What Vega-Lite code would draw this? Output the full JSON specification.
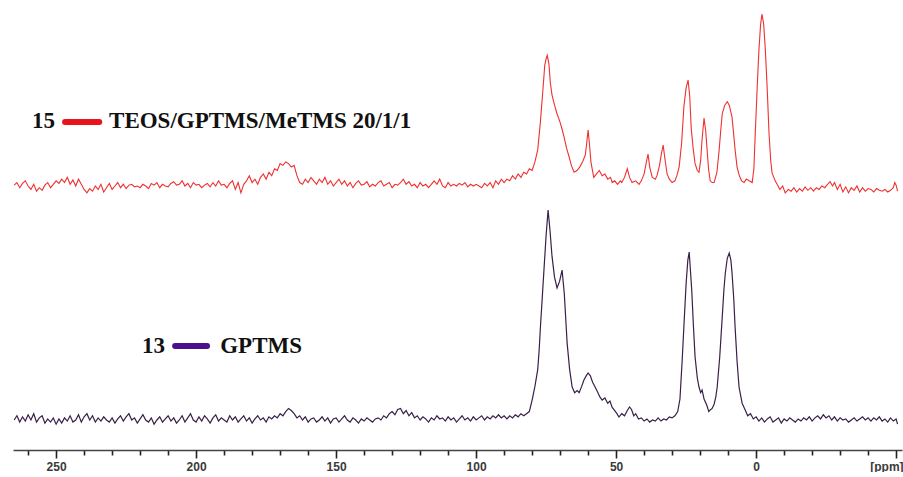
{
"$schema": "https://vega.github.io/schema/vega-lite/v6.json",
"background": "white",
"padding": {"left": 11, "top": 0, "right": 3, "bottom": 0},
"spacing": 0,
"config": {"view": {"stroke": null}, "concat": {"spacing": 0}},
"datasets": {
"red": [
{"ppm":265,"i":0.5},{"ppm":264,"i":2},{"ppm":263,"i":-1},{"ppm":262,"i":1.5},{"ppm":261,"i":3},{"ppm":260,"i":0},{"ppm":259,"i":-2},{"ppm":258,"i":1},{"ppm":257,"i":-3},{"ppm":256,"i":-1},{"ppm":255,"i":-2.5},{"ppm":254,"i":0.5},{"ppm":253,"i":2},{"ppm":252,"i":-1},{"ppm":251,"i":1},{"ppm":250,"i":3},{"ppm":249,"i":1.5},{"ppm":248,"i":4},{"ppm":247,"i":2},{"ppm":246,"i":5},{"ppm":245,"i":1},{"ppm":244,"i":3.5},{"ppm":243,"i":0},{"ppm":242,"i":4},{"ppm":241,"i":1},{"ppm":240,"i":-2},{"ppm":239,"i":-4},{"ppm":238,"i":-1.5},{"ppm":237,"i":-3},{"ppm":236,"i":0},{"ppm":235,"i":-2},{"ppm":234,"i":1},{"ppm":233,"i":-3.5},{"ppm":232,"i":-1},{"ppm":231,"i":1.5},{"ppm":230,"i":-2},{"ppm":229,"i":0},{"ppm":228,"i":2},{"ppm":227,"i":-1},{"ppm":226,"i":1},{"ppm":225,"i":-1.5},{"ppm":224,"i":0.5},{"ppm":223,"i":1},{"ppm":222,"i":-0.5},{"ppm":221,"i":0},{"ppm":220,"i":-1},{"ppm":219,"i":1},{"ppm":218,"i":0},{"ppm":217,"i":-1.5},{"ppm":216,"i":1.5},{"ppm":215,"i":0.5},{"ppm":214,"i":2},{"ppm":213,"i":-1},{"ppm":212,"i":1},{"ppm":211,"i":0},{"ppm":210,"i":-0.5},{"ppm":209,"i":1.5},{"ppm":208,"i":2.5},{"ppm":207,"i":0.5},{"ppm":206,"i":1},{"ppm":205,"i":3},{"ppm":204,"i":0},{"ppm":203,"i":1.5},{"ppm":202,"i":-1},{"ppm":201,"i":2},{"ppm":200,"i":0.5},{"ppm":199,"i":1},{"ppm":198,"i":-1},{"ppm":197,"i":0.5},{"ppm":196,"i":1.5},{"ppm":195,"i":-0.5},{"ppm":194,"i":2},{"ppm":193,"i":0},{"ppm":192,"i":3},{"ppm":191,"i":0.5},{"ppm":190,"i":1},{"ppm":189,"i":-1},{"ppm":188,"i":1.5},{"ppm":187,"i":3},{"ppm":186,"i":-2},{"ppm":185,"i":2},{"ppm":184,"i":-4},{"ppm":183,"i":1},{"ppm":182,"i":3},{"ppm":181,"i":6},{"ppm":180,"i":2},{"ppm":179,"i":4},{"ppm":178,"i":1},{"ppm":177,"i":5},{"ppm":176,"i":7},{"ppm":175,"i":4},{"ppm":174,"i":8},{"ppm":173,"i":6},{"ppm":172,"i":10},{"ppm":171,"i":9},{"ppm":170,"i":13},{"ppm":169,"i":12},{"ppm":168,"i":14},{"ppm":167,"i":13},{"ppm":166,"i":11},{"ppm":165,"i":12},{"ppm":164,"i":6},{"ppm":163,"i":2},{"ppm":162,"i":1},{"ppm":161,"i":4},{"ppm":160,"i":2},{"ppm":159,"i":5},{"ppm":158,"i":3},{"ppm":157,"i":1},{"ppm":156,"i":4},{"ppm":155,"i":2},{"ppm":154,"i":5},{"ppm":153,"i":1},{"ppm":152,"i":3},{"ppm":151,"i":0},{"ppm":150,"i":2},{"ppm":149,"i":4},{"ppm":148,"i":1},{"ppm":147,"i":3},{"ppm":146,"i":0},{"ppm":145,"i":2},{"ppm":144,"i":-1},{"ppm":143,"i":1.5},{"ppm":142,"i":3},{"ppm":141,"i":0.5},{"ppm":140,"i":1},{"ppm":139,"i":2.5},{"ppm":138,"i":-0.5},{"ppm":137,"i":1},{"ppm":136,"i":0},{"ppm":135,"i":2},{"ppm":134,"i":3},{"ppm":133,"i":0},{"ppm":132,"i":1},{"ppm":131,"i":2},{"ppm":130,"i":-1},{"ppm":129,"i":1},{"ppm":128,"i":0.5},{"ppm":127,"i":2},{"ppm":126,"i":4},{"ppm":125,"i":1},{"ppm":124,"i":2.5},{"ppm":123,"i":0},{"ppm":122,"i":1},{"ppm":121,"i":-1},{"ppm":120,"i":2},{"ppm":119,"i":0},{"ppm":118,"i":1},{"ppm":117,"i":-1},{"ppm":116,"i":1},{"ppm":115,"i":3},{"ppm":114,"i":1},{"ppm":113,"i":4},{"ppm":112,"i":0},{"ppm":111,"i":-1},{"ppm":110,"i":2},{"ppm":109,"i":0},{"ppm":108,"i":1},{"ppm":107,"i":0},{"ppm":106,"i":1.5},{"ppm":105,"i":0.5},{"ppm":104,"i":2},{"ppm":103,"i":-0.5},{"ppm":102,"i":1},{"ppm":101,"i":0},{"ppm":100,"i":1},{"ppm":99,"i":0},{"ppm":98,"i":-1},{"ppm":97,"i":1.5},{"ppm":96,"i":0},{"ppm":95,"i":2},{"ppm":94,"i":-1},{"ppm":93,"i":3},{"ppm":92,"i":1},{"ppm":91,"i":4},{"ppm":90,"i":2},{"ppm":89,"i":4},{"ppm":88,"i":3},{"ppm":87,"i":6},{"ppm":86,"i":4},{"ppm":85,"i":7},{"ppm":84,"i":5},{"ppm":83,"i":8},{"ppm":82,"i":7},{"ppm":81,"i":10},
{"ppm":80,"i":9},{"ppm":79,"i":14},{"ppm":78,"i":21},{"ppm":77,"i":38},{"ppm":76,"i":59},{"ppm":75.5,"i":70},{"ppm":75,"i":74},{"ppm":74.6,"i":76},{"ppm":74,"i":71},{"ppm":73.5,"i":60},{"ppm":72.9,"i":53},{"ppm":72,"i":47},{"ppm":71.1,"i":42},{"ppm":70,"i":37},{"ppm":69.3,"i":33},{"ppm":68.6,"i":28.5},{"ppm":67.7,"i":22},{"ppm":66.8,"i":17},{"ppm":66,"i":12},{"ppm":65,"i":8},{"ppm":64,"i":9},{"ppm":63,"i":11},{"ppm":62,"i":14},{"ppm":61,"i":18},{"ppm":60.5,"i":25},{"ppm":60,"i":32.6},{"ppm":59.5,"i":24},{"ppm":59,"i":14},{"ppm":58,"i":5},{"ppm":57,"i":7},{"ppm":56,"i":9},{"ppm":55,"i":6},{"ppm":54,"i":7},{"ppm":53,"i":4},{"ppm":52,"i":5},{"ppm":51.4,"i":2},{"ppm":50.5,"i":3},{"ppm":49.5,"i":1},{"ppm":48.5,"i":3},{"ppm":48,"i":2},{"ppm":47,"i":5},{"ppm":46,"i":10},{"ppm":45.2,"i":5},{"ppm":44.3,"i":2},{"ppm":43,"i":3},{"ppm":41.8,"i":1},{"ppm":41,"i":3},{"ppm":40,"i":7},{"ppm":39.3,"i":13},{"ppm":38.6,"i":18.6},{"ppm":38,"i":11},{"ppm":37.1,"i":5},{"ppm":36,"i":4},{"ppm":35.4,"i":6},{"ppm":34.5,"i":12},{"ppm":33.8,"i":19},{"ppm":33.2,"i":23.8},{"ppm":32.5,"i":15},{"ppm":31.8,"i":7},{"ppm":31,"i":4},{"ppm":30,"i":2},{"ppm":29,"i":3},{"ppm":28.3,"i":6},{"ppm":27.5,"i":11},{"ppm":26.6,"i":25},{"ppm":25.8,"i":46},{"ppm":25,"i":57},{"ppm":24.3,"i":61.6},{"ppm":23.7,"i":52},{"ppm":23.2,"i":34},{"ppm":22.5,"i":22},{"ppm":21.8,"i":13},{"ppm":21,"i":9},{"ppm":20.4,"i":8},{"ppm":19.8,"i":15},{"ppm":19.3,"i":27},{"ppm":18.6,"i":39.5},{"ppm":18,"i":32},{"ppm":17.5,"i":21},{"ppm":17,"i":10},{"ppm":16.4,"i":3},{"ppm":15.7,"i":2},{"ppm":15,"i":2},{"ppm":14,"i":8},{"ppm":13.2,"i":21},{"ppm":12.6,"i":33},{"ppm":12.1,"i":42},{"ppm":11.2,"i":47},{"ppm":10.3,"i":49},{"ppm":9.6,"i":47},{"ppm":8.6,"i":40},{"ppm":7.5,"i":21},{"ppm":6.8,"i":11},{"ppm":6,"i":6},{"ppm":5.2,"i":3},{"ppm":4.3,"i":2},{"ppm":3.5,"i":4},{"ppm":2.5,"i":3},{"ppm":1.4,"i":2},{"ppm":0.8,"i":10},{"ppm":0.3,"i":31},{"ppm":-0.4,"i":58},{"ppm":-1,"i":79},{"ppm":-1.6,"i":94},{"ppm":-2.1,"i":100},{"ppm":-2.7,"i":94},{"ppm":-3.3,"i":79},{"ppm":-4,"i":55},{"ppm":-4.6,"i":31},{"ppm":-5.2,"i":15},{"ppm":-5.7,"i":7.6},{"ppm":-6.8,"i":3},{"ppm":-7.5,"i":1},{"ppm":-8.5,"i":-2},{"ppm":-9.5,"i":0},{"ppm":-10.4,"i":-4},{"ppm":-11.5,"i":-2},{"ppm":-12.5,"i":-3},{"ppm":-13.5,"i":-1},{"ppm":-14.5,"i":-3.5},{"ppm":-15.5,"i":-1.5},{"ppm":-16.5,"i":-3},{"ppm":-17.5,"i":-0.5},{"ppm":-18.5,"i":-2.5},{"ppm":-19.5,"i":-1},{"ppm":-20.5,"i":-3},{"ppm":-21.5,"i":-1},{"ppm":-22.5,"i":-2},{"ppm":-23.5,"i":0},{"ppm":-24.5,"i":-1},{"ppm":-25.5,"i":1},{"ppm":-26.4,"i":2.5},{"ppm":-27.3,"i":0},{"ppm":-28,"i":2},{"ppm":-29,"i":-2},{"ppm":-30,"i":1},{"ppm":-31,"i":-3.5},{"ppm":-32,"i":-0.5},{"ppm":-33,"i":-4},{"ppm":-34,"i":-1},{"ppm":-35,"i":-2.5},{"ppm":-36,"i":0},{"ppm":-37,"i":-3.5},{"ppm":-38,"i":-1},{"ppm":-39,"i":-3},{"ppm":-40,"i":-1.5},{"ppm":-41,"i":-2},{"ppm":-42,"i":-3.5},{"ppm":-43,"i":-1.5},{"ppm":-44,"i":-2.5},{"ppm":-45,"i":-3},{"ppm":-46,"i":-2},{"ppm":-47,"i":-3.5},{"ppm":-48,"i":-2.5},{"ppm":-49,"i":-1},{"ppm":-49.5,"i":2},{"ppm":-50,"i":0.5},{"ppm":-50.5,"i":-3}
],
"purple": [
{"ppm":265,"i":0},{"ppm":264,"i":2},{"ppm":263,"i":-1},{"ppm":262,"i":1.5},{"ppm":261,"i":-0.5},{"ppm":260,"i":2.5},{"ppm":259,"i":0},{"ppm":258,"i":3},{"ppm":257,"i":-1},{"ppm":256,"i":1},{"ppm":255,"i":2},{"ppm":254,"i":-1.5},{"ppm":253,"i":0.5},{"ppm":252,"i":-1},{"ppm":251,"i":1},{"ppm":250,"i":-2},{"ppm":249,"i":0.5},{"ppm":248,"i":-1.5},{"ppm":247,"i":1},{"ppm":246,"i":-0.5},{"ppm":245,"i":2},{"ppm":244,"i":-1},{"ppm":243,"i":0},{"ppm":242,"i":2.5},{"ppm":241,"i":-1},{"ppm":240,"i":1.5},{"ppm":239,"i":3},{"ppm":238,"i":0},{"ppm":237,"i":2},{"ppm":236,"i":-1},{"ppm":235,"i":1},{"ppm":234,"i":-0.5},{"ppm":233,"i":1.5},{"ppm":232,"i":0},{"ppm":231,"i":-1},{"ppm":230,"i":1},{"ppm":229,"i":-1.5},{"ppm":228,"i":0.5},{"ppm":227,"i":2},{"ppm":226,"i":-0.5},{"ppm":225,"i":1.5},{"ppm":224,"i":3},{"ppm":223,"i":0},{"ppm":222,"i":1},{"ppm":221,"i":-1.5},{"ppm":220,"i":0.5},{"ppm":219,"i":2.5},{"ppm":218,"i":0},{"ppm":217,"i":-1},{"ppm":216,"i":1},{"ppm":215,"i":-2},{"ppm":214,"i":0},{"ppm":213,"i":1.5},{"ppm":212,"i":-1},{"ppm":211,"i":0.5},{"ppm":210,"i":2},{"ppm":209,"i":-0.5},{"ppm":208,"i":1},{"ppm":207,"i":-1.5},{"ppm":206,"i":0},{"ppm":205,"i":2},{"ppm":204,"i":-1},{"ppm":203,"i":1},{"ppm":202,"i":3},{"ppm":201,"i":0},{"ppm":200,"i":-1},{"ppm":199,"i":1.5},{"ppm":198,"i":-0.5},{"ppm":197,"i":2},{"ppm":196,"i":0.5},{"ppm":195,"i":-1.5},{"ppm":194,"i":1},{"ppm":193,"i":2.5},{"ppm":192,"i":-0.5},{"ppm":191,"i":1},{"ppm":190,"i":0},{"ppm":189,"i":-1},{"ppm":188,"i":2},{"ppm":187,"i":0},{"ppm":186,"i":1.5},{"ppm":185,"i":-1},{"ppm":184,"i":0.5},{"ppm":183,"i":2},{"ppm":182,"i":-0.5},{"ppm":181,"i":1},{"ppm":180,"i":-1.5},{"ppm":179,"i":0.5},{"ppm":178,"i":2},{"ppm":177,"i":0},{"ppm":176,"i":1},{"ppm":175,"i":-1},{"ppm":174,"i":1.5},{"ppm":173,"i":0.5},{"ppm":172,"i":2},{"ppm":171,"i":1},{"ppm":170,"i":3},{"ppm":169,"i":2},{"ppm":168,"i":4},{"ppm":167,"i":5.5},{"ppm":166,"i":4.5},{"ppm":165,"i":3},{"ppm":164,"i":1},{"ppm":163,"i":2},{"ppm":162,"i":0},{"ppm":161,"i":1.5},{"ppm":160,"i":-1},{"ppm":159,"i":0.5},{"ppm":158,"i":1},{"ppm":157,"i":-1},{"ppm":156,"i":0},{"ppm":155,"i":1.5},{"ppm":154,"i":-0.5},{"ppm":153,"i":1},{"ppm":152,"i":-1.5},{"ppm":151,"i":0.5},{"ppm":150,"i":1},{"ppm":149,"i":-1},{"ppm":148,"i":0.5},{"ppm":147,"i":2},{"ppm":146,"i":0},{"ppm":145,"i":-1},{"ppm":144,"i":1},{"ppm":143,"i":0},{"ppm":142,"i":-1.5},{"ppm":141,"i":0.5},{"ppm":140,"i":-0.5},{"ppm":139,"i":1},{"ppm":138,"i":0},{"ppm":137,"i":-1},{"ppm":136,"i":0.5},{"ppm":135,"i":1},{"ppm":134,"i":0},{"ppm":133,"i":2},{"ppm":132,"i":1},{"ppm":131,"i":3},{"ppm":130,"i":4},{"ppm":129,"i":2.5},{"ppm":128,"i":5},{"ppm":127,"i":5.5},{"ppm":126,"i":3},{"ppm":125,"i":4.5},{"ppm":124,"i":2},{"ppm":123,"i":3.5},{"ppm":122,"i":1},{"ppm":121,"i":2},{"ppm":120,"i":0},{"ppm":119,"i":1.5},{"ppm":118,"i":0.5},{"ppm":117,"i":-1},{"ppm":116,"i":1},{"ppm":115,"i":0},{"ppm":114,"i":2},{"ppm":113,"i":0.5},{"ppm":112,"i":1},{"ppm":111,"i":-0.5},{"ppm":110,"i":1.5},{"ppm":109,"i":0},{"ppm":108,"i":1},{"ppm":107,"i":-1},{"ppm":106,"i":0.5},{"ppm":105,"i":2},{"ppm":104,"i":0},{"ppm":103,"i":1},{"ppm":102,"i":-0.5},{"ppm":101,"i":1.5},{"ppm":100,"i":0},{"ppm":99,"i":1},{"ppm":98,"i":2},{"ppm":97,"i":0},{"ppm":96,"i":1.5},{"ppm":95,"i":0.5},{"ppm":94,"i":2},{"ppm":93,"i":1},{"ppm":92,"i":2.5},{"ppm":91,"i":1},{"ppm":90,"i":2},{"ppm":89,"i":0.5},{"ppm":88,"i":2},{"ppm":87,"i":1},{"ppm":86,"i":2.5},{"ppm":85,"i":1.5},{"ppm":84,"i":3},{"ppm":83,"i":2},
{"ppm":82,"i":3},{"ppm":81,"i":4},{"ppm":80,"i":9.5},{"ppm":79,"i":16},{"ppm":78,"i":24},{"ppm":77.5,"i":33},{"ppm":77,"i":45},{"ppm":76.3,"i":60},{"ppm":75.7,"i":73},{"ppm":75,"i":88},{"ppm":74.3,"i":100},{"ppm":73.6,"i":90},{"ppm":72.9,"i":78},{"ppm":72,"i":68},{"ppm":71.1,"i":62.9},{"ppm":70.2,"i":66},{"ppm":69.3,"i":71.4},{"ppm":68.5,"i":60},{"ppm":67.5,"i":36.7},{"ppm":66.6,"i":24},{"ppm":65.7,"i":15.7},{"ppm":64.8,"i":13},{"ppm":63.9,"i":14},{"ppm":63.2,"i":13},{"ppm":62.3,"i":16},{"ppm":61.5,"i":19},{"ppm":60.7,"i":21},{"ppm":60,"i":22.4},{"ppm":59.2,"i":21},{"ppm":58.4,"i":18},{"ppm":57.5,"i":15.7},{"ppm":56.5,"i":13},{"ppm":55.8,"i":11},{"ppm":55,"i":9.5},{"ppm":54,"i":10.5},{"ppm":53,"i":8},{"ppm":52.2,"i":9},{"ppm":51.4,"i":6},{"ppm":50.5,"i":4.5},{"ppm":49.7,"i":3},{"ppm":49,"i":1.4},{"ppm":48,"i":3},{"ppm":47,"i":2},{"ppm":46,"i":4.5},{"ppm":45.2,"i":6.2},{"ppm":44.5,"i":5},{"ppm":43.7,"i":2},{"ppm":43,"i":3},{"ppm":42,"i":0.5},{"ppm":41,"i":1},{"ppm":40,"i":-0.5},{"ppm":39,"i":0.5},{"ppm":38,"i":-1},{"ppm":37,"i":0},{"ppm":36,"i":-0.5},{"ppm":35,"i":1},{"ppm":34,"i":-0.5},{"ppm":33,"i":0.5},{"ppm":32,"i":0},{"ppm":31,"i":1.5},{"ppm":30,"i":1},{"ppm":29,"i":2},{"ppm":28,"i":4},{"ppm":27.2,"i":10},{"ppm":26.4,"i":28.6},{"ppm":25.7,"i":47},{"ppm":25,"i":65},{"ppm":24.4,"i":76},{"ppm":23.9,"i":80},{"ppm":23.4,"i":70},{"ppm":23,"i":62},{"ppm":22.4,"i":45},{"ppm":21.8,"i":30},{"ppm":21,"i":20},{"ppm":20.4,"i":15.7},{"ppm":19.8,"i":13},{"ppm":19.3,"i":14.3},{"ppm":18.6,"i":10},{"ppm":17.6,"i":7},{"ppm":16.9,"i":4},{"ppm":16.4,"i":4.8},{"ppm":15.7,"i":5.5},{"ppm":15,"i":7.5},{"ppm":14.4,"i":11},{"ppm":13.9,"i":15.7},{"ppm":13,"i":30},{"ppm":12.1,"i":49},{"ppm":11.5,"i":62},{"ppm":11,"i":70},{"ppm":10.3,"i":77},{"ppm":9.6,"i":79.5},{"ppm":9,"i":76},{"ppm":8.6,"i":70},{"ppm":8,"i":58},{"ppm":7.5,"i":44},{"ppm":6.8,"i":28},{"ppm":6.1,"i":15.7},{"ppm":5,"i":8},{"ppm":3.9,"i":4.8},{"ppm":3,"i":2},{"ppm":2,"i":3},{"ppm":1,"i":0.5},{"ppm":0,"i":1.5},
{"ppm":-1,"i":-0.5},{"ppm":-2,"i":1},{"ppm":-3,"i":-1},{"ppm":-4,"i":0.5},{"ppm":-5,"i":1.5},{"ppm":-6,"i":-1},{"ppm":-7,"i":0},{"ppm":-8,"i":1},{"ppm":-9,"i":-1.5},{"ppm":-10,"i":0.5},{"ppm":-11,"i":-0.5},{"ppm":-12,"i":1},{"ppm":-13,"i":0},{"ppm":-14,"i":-1},{"ppm":-15,"i":0.5},{"ppm":-16,"i":-0.5},{"ppm":-17,"i":1},{"ppm":-18,"i":0},{"ppm":-19,"i":1.5},{"ppm":-20,"i":-0.5},{"ppm":-21,"i":1},{"ppm":-22,"i":2},{"ppm":-23,"i":0.5},{"ppm":-24,"i":2.5},{"ppm":-25,"i":1},{"ppm":-26,"i":2},{"ppm":-27,"i":0},{"ppm":-28,"i":1.5},{"ppm":-29,"i":-0.5},{"ppm":-30,"i":1},{"ppm":-31,"i":0},{"ppm":-32,"i":0.5},{"ppm":-33,"i":-1},{"ppm":-34,"i":0},{"ppm":-35,"i":1},{"ppm":-36,"i":-0.5},{"ppm":-37,"i":0.5},{"ppm":-38,"i":1.5},{"ppm":-39,"i":0},{"ppm":-40,"i":1},{"ppm":-41,"i":-0.5},{"ppm":-42,"i":1},{"ppm":-43,"i":0},{"ppm":-44,"i":1.5},{"ppm":-45,"i":-0.5},{"ppm":-46,"i":0.5},{"ppm":-47,"i":-1},{"ppm":-48,"i":1},{"ppm":-49,"i":-0.5},{"ppm":-50,"i":0.5},{"ppm":-50.5,"i":-2}
]
},
"vconcat": [
{
"width": 889, "height": 200,
"encoding": {
"x": {"field": "ppm", "type": "quantitative", "scale": {"domain": [-52.1, 265.4], "reverse": true, "nice": false, "zero": false}, "axis": null},
"y": {"field": "i", "type": "quantitative", "scale": {"domain": [-8.14, 108.14], "nice": false, "zero": false}, "axis": null}
},
"layer": [
{"data": {"name": "red"}, "mark": {"type": "line", "color": "#f03030", "strokeWidth": 1.1}},
{"data": {"values": [{"ppm": 246.8, "ppm2": 234.6, "i": 37.2}]}, "mark": {"type": "rule", "color": "#e8141c", "strokeWidth": 6, "strokeCap": "round"}, "encoding": {"x2": {"field": "ppm2"}}},
{"data": {"values": [{"ppm": 250.4, "i": 33.7, "t": "15"}]}, "mark": {"type": "text", "align": "right", "baseline": "alphabetic", "font": "Liberation Serif", "fontWeight": "bold", "fontSize": 23, "color": "#111111"}, "encoding": {"text": {"field": "t"}}},
{"data": {"values": [{"ppm": 231.1, "i": 33.7, "t": "TEOS/GPTMS/MeTMS 20/1/1"}]}, "mark": {"type": "text", "align": "left", "baseline": "alphabetic", "font": "Liberation Serif", "fontWeight": "bold", "fontSize": 23, "color": "#111111"}, "encoding": {"text": {"field": "t"}}}
]
},
{
"width": 889, "height": 250,
"resolve": {"axis": {"x": "independent"}},
"layer": [
{"data": {"name": "purple"}, "mark": {"type": "line", "color": "#3a1f48", "strokeWidth": 1.2},
 "encoding": {
  "x": {"field": "ppm", "type": "quantitative", "scale": {"domain": [-52.1, 265.4], "reverse": true, "nice": false, "zero": false},
   "axis": {"orient": "bottom", "zindex": 2, "values": [260,240,230,220,210,190,180,170,160,140,130,120,110,90,80,70,60,40,30,20,10,-10,-20,-30,-40],
    "labels": false, "ticks": true, "tickSize": 5, "tickWidth": 1.6, "tickColor": "#222222", "domainColor": "#444444", "domainWidth": 1.3, "grid": false, "title": null}},
  "y": {"field": "i", "type": "quantitative", "scale": {"domain": [-14.29, 104.76], "nice": false, "zero": false}, "axis": null}
 }},
{"data": {"values": [{"ppm": 207.5, "ppm2": 196.1, "i": 35.2}]}, "mark": {"type": "rule", "color": "#4a1090", "strokeWidth": 6, "strokeCap": "round"},
 "encoding": {
  "x": {"field": "ppm", "type": "quantitative", "scale": {"domain": [-52.1, 265.4], "reverse": true, "nice": false, "zero": false},
   "axis": {"orient": "bottom", "zindex": 2, "values": [250,200,150,100,50,0,-50],
    "labelExpr": "datum.value == -50 ? '[ppm]' : datum.label",
    "ticks": true, "tickSize": 8, "tickWidth": 1.6, "tickColor": "#222222", "domain": false,
    "labelFontSize": 12, "labelFontWeight": "bold", "labelFont": "Liberation Sans", "labelColor": "#3a3a3a",
    "grid": false, "title": null, "labelPadding": 3, "labelFlush": 10, "labelFlushOffset": 7, "labelOverlap": false}},
  "x2": {"field": "ppm2"},
  "y": {"field": "i", "type": "quantitative", "scale": {"domain": [-14.29, 104.76], "nice": false, "zero": false}, "axis": null}
 }},
{"data": {"values": [{"ppm": 211.1, "i": 31.9, "t": "13"}]}, "mark": {"type": "text", "align": "right", "baseline": "alphabetic", "font": "Liberation Serif", "fontWeight": "bold", "fontSize": 23, "color": "#111111"},
 "encoding": {"x": {"field": "ppm", "type": "quantitative", "axis": null}, "y": {"field": "i", "type": "quantitative", "axis": null}, "text": {"field": "t"}}},
{"data": {"values": [{"ppm": 191.4, "i": 31.9, "t": "GPTMS"}]}, "mark": {"type": "text", "align": "left", "baseline": "alphabetic", "font": "Liberation Serif", "fontWeight": "bold", "fontSize": 23, "color": "#111111"},
 "encoding": {"x": {"field": "ppm", "type": "quantitative", "axis": null}, "y": {"field": "i", "type": "quantitative", "axis": null}, "text": {"field": "t"}}}
]
}
]
}
